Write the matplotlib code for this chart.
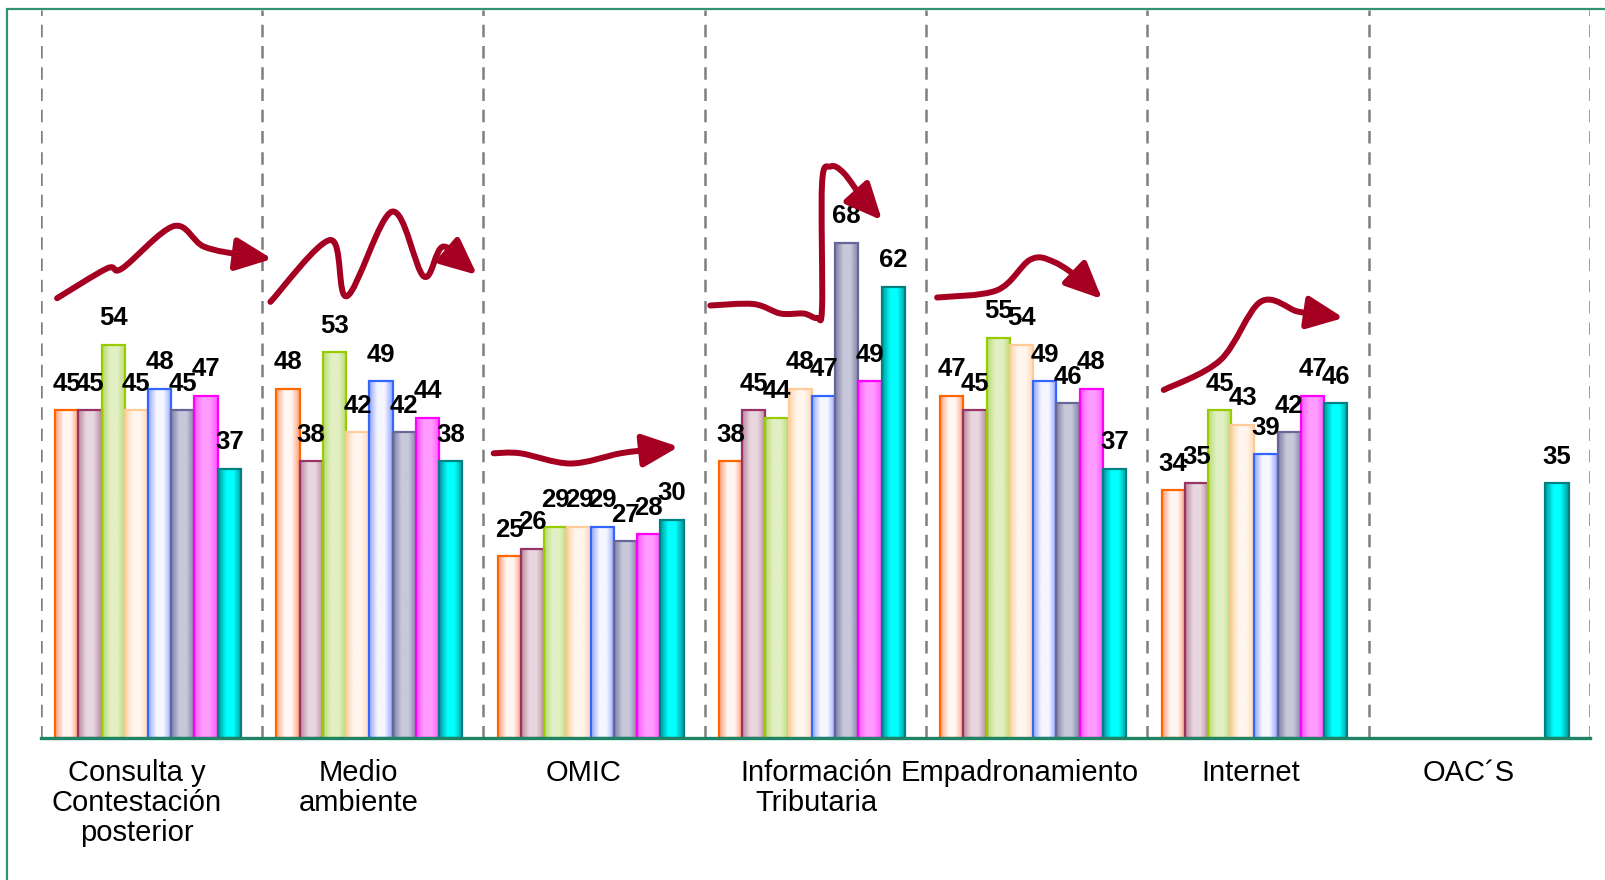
import numpy as np
import matplotlib
matplotlib.use("Agg")
import matplotlib.pyplot as plt
from matplotlib.colors import LinearSegmentedColormap
from matplotlib.patches import FancyArrowPatch, Rectangle
from matplotlib.path import Path

plt.rcParams['font.family'] = ['Liberation Sans', 'DejaVu Sans']

# datos
categorias = ['Consulta y\nContestación\nposterior', 'Medio\nambiente', 'OMIC',
              'Información\nTributaria', 'Empadronamiento', 'Internet', 'OAC´S']
serie1 = [45, 48, 25, 38, 47, 34, np.nan]
serie2 = [45, 38, 26, 45, 45, 35, np.nan]
serie3 = [54, 53, 29, 44, 55, 45, np.nan]
serie4 = [45, 42, 29, 48, 54, 43, np.nan]
serie5 = [48, 49, 29, 47, 49, 39, np.nan]
serie6 = [45, 42, 27, 68, 46, 42, np.nan]
serie7 = [47, 44, 28, 49, 48, 47, np.nan]
serie8 = [37, 38, 30, 62, 37, 46, 35]
series = [serie1, serie2, serie3, serie4, serie5, serie6, serie7, serie8]

# (borde, lateral, brillo) de cada serie
colores = [('#FF6600', '#FF9E78', '#FFF6F2'),
           ('#993366', '#B98AA0', '#E8D6DE'),
           ('#99CC00', '#B8DC70', '#E2F0C4'),
           ('#FFCC99', '#FFD6AE', '#FFF6EE'),
           ('#3366FF', '#90A4FF', '#F6F6FF'),
           ('#666699', '#7E7EA6', '#C8C8DA'),
           ('#FF00FF', '#FF55FF', '#FF9CFF'),
           ('#008080', '#009A9A', '#00FFFF')]

# desplazamiento de cada etiqueta de categoria
desp_etiq = [-0.068, -0.064, -0.05, 0.006, -0.078, -0.032, -0.05]

fig = plt.figure(figsize=(16.05, 8.8), dpi=100)
ax = fig.add_axes([0.0255, 0.1614, 0.9651, 0.8273])

x = np.arange(len(categorias))
ancho = 0.105
grad = np.linspace(0, 1, 64).reshape(1, -1)

for i, valores in enumerate(series):
    borde, lado, brillo = colores[i]
    cmap = LinearSegmentedColormap.from_list(
        's%d' % i, [(0, lado), (0.35, brillo), (0.65, brillo), (1, lado)])
    v = np.array(valores, dtype=float)
    ok = ~np.isnan(v)
    pos = x[ok] + (i - 3.5) * ancho - 0.016
    barras = ax.bar(pos, v[ok], width=ancho, facecolor='none',
                    edgecolor=borde, linewidth=1.6, zorder=3)
    for b, val in zip(barras, v[ok]):
        x0 = b.get_x()
        ax.imshow(grad, extent=[x0, x0 + b.get_width(), 0, b.get_height()],
                  aspect='auto', cmap=cmap, zorder=2, interpolation='bilinear')
        ax.annotate('%d' % val, (x0 + b.get_width() / 2, b.get_height()),
                    xytext=(0, 14), textcoords='offset points',
                    ha='center', va='baseline', fontsize=18.5,
                    fontweight='bold', color='black', zorder=5)

# lineas de separacion
for s in np.arange(-0.5, len(categorias), 1.0):
    ax.axvline(s, color='#7F7F7F', lw=1.8, dashes=(5, 3.5), zorder=1)

ax.set_xlim(-0.5, len(categorias) - 0.5)
ax.set_ylim(0, 100)
ax.set_xticks(x + np.array(desp_etiq))
ax.set_xticklabels(categorias, fontsize=21, linespacing=1.1)
ax.tick_params(axis='x', length=0, pad=15)
ax.set_yticks([])
for lado in ['top', 'left', 'right']:
    ax.spines[lado].set_visible(False)
ax.spines['bottom'].set_color('#1F8466')
ax.spines['bottom'].set_linewidth(2.4)
ax.spines['bottom'].set_zorder(6)

# flechas onduladas
flechas = [
    [(-0.427, 60.4), (-0.201, 64.5), (-0.133, 64.5), (0.100, 70.3), (0.236, 67.5),
     (0.416, 66.3), (0.545, 65.8)],
    [(0.537, 59.9), (0.808, 68.4), (0.884, 60.7), (1.087, 72.3), (1.230, 63.4),
     (1.320, 67.5), (1.471, 63.6)],
    [(1.546, 39.1), (1.667, 39.1), (1.893, 37.7), (2.119, 39.1), (2.254, 39.6),
     (2.382, 40.0)],
    [(2.525, 59.4), (2.721, 59.6), (2.842, 58.3), (2.947, 58.3), (3.007, 57.7),
     (3.030, 59.2), (3.030, 76.2), (3.068, 78.5), (3.128, 77.6), (3.218, 73.9),
     (3.301, 71.1)],
    [(3.550, 60.5), (3.821, 61.5), (3.971, 65.7), (4.077, 65.4), (4.212, 62.7),
     (4.295, 60.3)],
    [(4.574, 47.8), (4.830, 51.9), (5.011, 59.9), (5.176, 58.6), (5.251, 58.3),
     (5.387, 57.7)],
]


def camino_suave(puntos):
    p = np.array(puntos, dtype=float)
    p = np.vstack([p[0], p, p[-1]])
    verts = [p[1]]
    codes = [Path.MOVETO]
    for k in range(1, len(p) - 2):
        c1 = p[k] + (p[k + 1] - p[k - 1]) / 6.0
        c2 = p[k + 1] - (p[k + 2] - p[k]) / 6.0
        verts += [c1, c2, p[k + 1]]
        codes += [Path.CURVE4] * 3
    return Path(verts, codes)


for puntos in flechas:
    fl = FancyArrowPatch(path=camino_suave(puntos),
                         arrowstyle='-|>,head_length=2.2,head_width=1.0',
                         mutation_scale=10, color='#A50021', lw=4.3,
                         shrinkA=0, shrinkB=0, zorder=7, clip_on=False)
    ax.add_patch(fl)

# marco verde de la figura
fig.add_artist(Rectangle((7 / 1605, -0.1), 1.2, 1.1 - 9 / 880,
                         transform=fig.transFigure, fill=False,
                         edgecolor='#2E9474', lw=1.6))

fig.savefig('out.png', dpi=100)
